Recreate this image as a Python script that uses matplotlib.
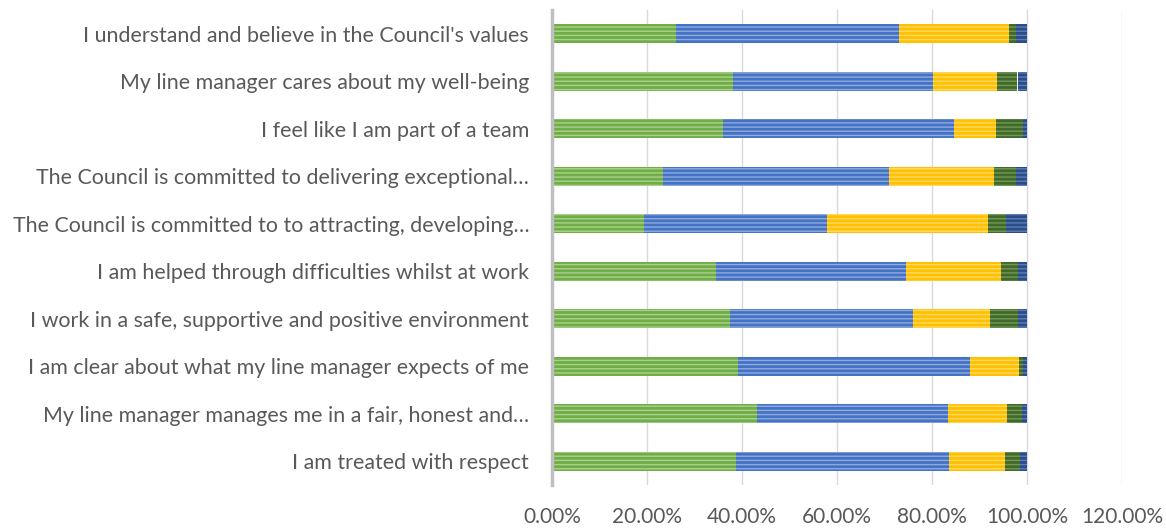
import matplotlib
matplotlib.use("Agg")
import matplotlib.pyplot as plt
from matplotlib.ticker import FuncFormatter
import numpy as np

categories = [
    "I understand and believe in the Council's values",
    "My line manager cares about my well-being",
    "I feel like I am part of a team",
    "The Council is committed to delivering exceptional…",
    "The Council is committed to to attracting, developing…",
    "I am helped through difficulties whilst at work",
    "I work in a safe, supportive and positive environment",
    "I am clear about what my line manager expects of me",
    "My line manager manages me in a fair, honest and…",
    "I am treated with respect",
]

s1 = [26.0, 38.1, 36.1, 23.4, 19.4, 34.6, 37.4, 39.2, 43.1, 38.7]
s2 = [47.1, 42.1, 48.5, 47.5, 38.5, 39.9, 38.5, 48.8, 40.2, 44.9]
s3 = [23.1, 13.4, 8.9, 22.1, 33.9, 20.1, 16.4, 10.3, 12.5, 11.8]
s4 = [1.5, 4.4, 5.6, 4.6, 3.7, 3.6, 5.9, 0.9, 3.1, 3.1]
s5 = [2.3, 2.0, 0.9, 2.4, 4.5, 1.8, 1.8, 0.8, 1.1, 1.5]

series = [s1, s2, s3, s4, s5]
colors = ["#70AD47", "#4472C4", "#FFC000", "#43682B", "#2B4C86"]
stripe = ["#A9D18E", "#8FAADC", "#FFD966", "#6E9A52", "#5A7DB8"]

plt.rcParams["font.family"] = ["Lato", "DejaVu Sans"]
plt.rcParams["hatch.linewidth"] = 1.0

fig = plt.figure(figsize=(11.66, 5.31), dpi=100)
ax = fig.add_axes([552/1166, 46/531, 570/1166, 475/531])

y = np.arange(len(categories))
left = np.zeros(len(categories))
for vals, c, sc in zip(series, colors, stripe):
    v = np.array(vals) / 100.0
    ax.barh(y, v, left=left, height=0.4, color=c, edgecolor=sc,
            linewidth=0, hatch="----")
    left += v

ax.set_ylim(len(categories) - 0.5, -0.5)
ax.set_xlim(0, 1.2)
ax.set_xticks(np.arange(0, 1.21, 0.2))
ax.xaxis.set_major_formatter(FuncFormatter(lambda x, p: f"{x*100:.2f}%"))
ax.set_yticks(y)
ax.set_yticklabels(categories)
ax.tick_params(axis="both", length=0, colors="#595959")
ax.tick_params(axis="y", pad=16.5, labelsize=15.4)
ax.tick_params(axis="x", pad=16, labelsize=15)
ax.grid(axis="x", color="#D9D9D9", linewidth=1)
ax.set_axisbelow(True)
for s in ["top", "right", "bottom"]:
    ax.spines[s].set_visible(False)
ax.spines["left"].set_color("#BFBFBF")
ax.spines["left"].set_linewidth(2.5)

fig.savefig("out.png", dpi=100)
